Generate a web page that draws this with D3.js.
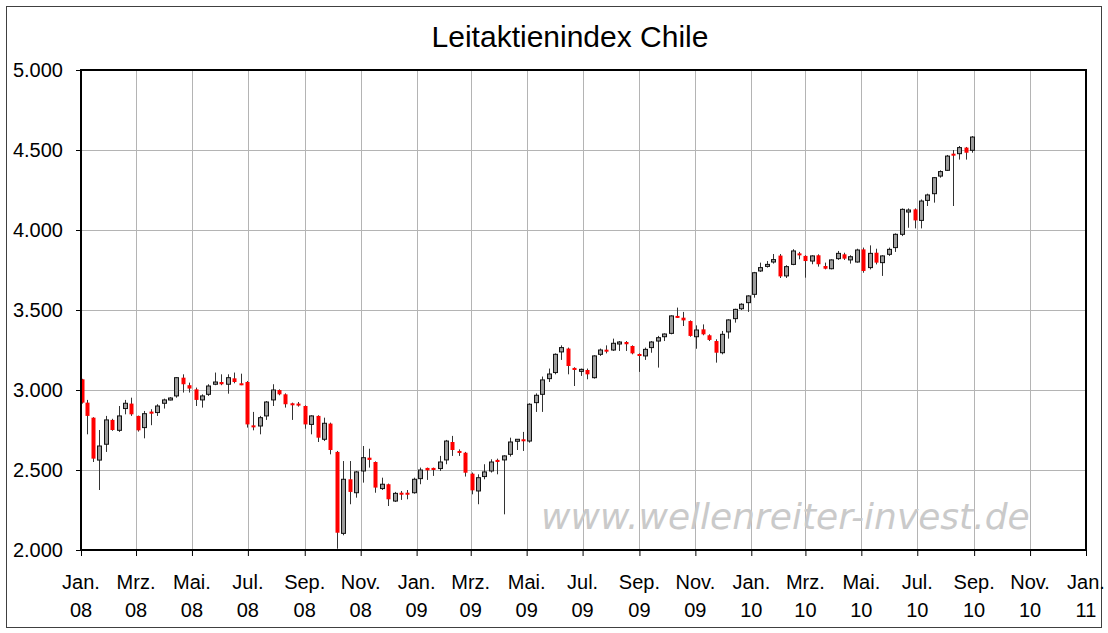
<!DOCTYPE html>
<html>
<head>
<meta charset="utf-8">
<script src="https://cdn.jsdelivr.net/npm/d3@7"></script>
<style>
  body { margin: 0; background: #fff; }
  svg { display: block; }
  text { font-family: "Liberation Sans", Arial, sans-serif; fill: #000; }
</style>
</head>
<body>
<div id="chart"></div>
<script>
// weekly candles, Jan 2008 - Aug 2010 (first one is the short new-year week)
const firstDay = "2008-01-02";
const firstWeek = "2008-01-07";

const opens = [3067,2921,2827,2562,2661,2813,2748,2884,2915,2838,2765,2865,2859,2917,2946,2963,3077,3030,3004,2938,
  2973,3036,3050,3036,3073,3042,3050,2779,2775,2838,2938,3000,2973,2917,2915,2900,2785,2838,2692,2790,
  2613,2104,2442,2358,2494,2577,2550,2384,2411,2306,2358,2358,2358,2446,2513,2513,2509,2563,2675,2619,
  2608,2477,2369,2459,2494,2563,2563,2598,2683,2692,2681,2921,2973,3071,3109,3238,3259,3138,3117,3125,
  3077,3223,3252,3250,3292,3300,3275,3225,3213,3265,3306,3333,3354,3463,3452,3431,3333,3379,3342,3306,
  3233,3363,3446,3508,3546,3598,3744,3775,3800,3840,3713,3785,3854,3838,3806,3842,3775,3758,3821,3848,
  3813,3800,3879,3765,3858,3796,3848,3890,3973,4115,4129,4060,4185,4227,4337,4373,4477,4477,4515,4498];
const highs = [3070,2938,2830,2750,2838,2820,2900,2938,2952,2840,2869,2880,2911,2946,2955,3080,3098,3046,3015,2973,
  3036,3109,3098,3098,3109,3102,3056,2863,2838,2931,3036,3004,2979,2921,2925,2904,2842,2842,2827,2796,
  2619,2556,2556,2494,2650,2633,2554,2452,2415,2363,2369,2375,2452,2515,2515,2515,2588,2688,2713,2629,
  2613,2484,2473,2536,2567,2571,2592,2702,2692,2738,2917,2979,3084,3134,3229,3279,3265,3142,3134,3134,
  3217,3259,3279,3321,3306,3306,3279,3229,3265,3306,3338,3354,3467,3515,3488,3435,3404,3410,3348,3317,
  3369,3442,3508,3542,3592,3738,3796,3806,3850,3850,3780,3880,3863,3842,3842,3848,3796,3817,3869,3858,
  3842,3883,3890,3904,3883,3842,3890,3979,4135,4135,4135,4191,4227,4331,4373,4469,4500,4525,4519,4587];
const lows = [2915,2723,2550,2375,2613,2745,2738,2848,2838,2740,2698,2780,2838,2884,2935,2952,2984,2984,2900,2890,
  2963,3030,3030,2977,3042,3030,2765,2748,2723,2813,2900,2967,2890,2813,2896,2758,2723,2675,2681,2598,
  2008,2092,2286,2327,2421,2515,2358,2375,2275,2300,2313,2317,2352,2411,2438,2463,2494,2536,2588,2588,
  2459,2348,2286,2442,2484,2473,2223,2584,2625,2619,2671,2863,2863,3050,3098,3188,3098,3025,3088,3067,
  3071,3213,3229,3244,3244,3244,3223,3113,3188,3233,3140,3306,3348,3450,3400,3333,3258,3342,3306,3171,
  3223,3321,3421,3500,3488,3577,3738,3765,3790,3700,3700,3780,3817,3702,3786,3771,3754,3754,3813,3813,
  3790,3796,3733,3754,3785,3713,3838,3863,3962,4014,4010,4010,4150,4171,4327,4369,4150,4440,4440,4483];
const closes = [2921,2838,2571,2650,2813,2750,2838,2917,2848,2748,2852,2852,2900,2938,2950,3077,3036,3009,2938,2963,
  3025,3050,3036,3077,3050,3036,2785,2771,2827,2925,3000,2973,2911,2907,2904,2785,2838,2702,2792,2625,
  2108,2442,2363,2488,2577,2563,2390,2411,2317,2354,2348,2348,2442,2500,2498,2500,2550,2681,2625,2608,
  2483,2373,2452,2488,2550,2550,2588,2675,2692,2683,2911,2967,3063,3100,3223,3265,3150,3125,3129,3098,
  3213,3250,3246,3292,3300,3286,3229,3213,3254,3300,3327,3350,3463,3454,3435,3338,3375,3348,3313,3233,
  3348,3438,3504,3536,3588,3733,3765,3785,3815,3710,3771,3869,3842,3806,3838,3786,3758,3813,3854,3821,
  3833,3875,3744,3854,3796,3838,3879,3973,4129,4125,4060,4181,4219,4327,4365,4462,4465,4515,4483,4581];

const yTicks = [2000, 2500, 3000, 3500, 4000, 4500, 5000];
const monthNames = ["Jan.", "Feb.", "Mrz.", "Apr.", "Mai.", "Jun.", "Jul.", "Aug.", "Sep.", "Okt.", "Nov.", "Dez."];

const W = 1108, H = 633;
const plot = { left: 81, right: 1086, top: 70, bottom: 550 };

const parse = d3.timeParse("%Y-%m-%d");
const dates = [parse(firstDay)].concat(
  d3.range(opens.length - 1).map(i => d3.timeWeek.offset(parse(firstWeek), i)));
const candles = dates.map((d, i) => ({ date: d, o: opens[i], h: highs[i], l: lows[i], c: closes[i] }));

const x = d3.scaleTime()
  .domain([parse("2008-01-01"), parse("2011-01-01")])
  .range([plot.left, plot.right]);
const y = d3.scaleLinear().domain([2000, 5000]).range([plot.bottom, plot.top]);
const xTicks = d3.timeMonth.every(2).range(parse("2008-01-01"), parse("2011-01-02"));

const svg = d3.select("#chart").append("svg")
  .attr("width", W)
  .attr("height", H);

// outer frame
svg.append("rect")
  .attr("x", 6.5).attr("y", 6.5)
  .attr("width", W - 13).attr("height", H - 12)
  .attr("fill", "#fff")
  .attr("stroke", "#404040")
  .attr("stroke-width", 1);

svg.append("text")
  .attr("x", 570).attr("y", 47)
  .attr("text-anchor", "middle")
  .style("font-size", "30px")
  .text("Leitaktienindex Chile");

// grid
const grid = svg.append("g").attr("stroke", "#b4b4b4").attr("stroke-width", 1);
grid.selectAll("line.h")
  .data(yTicks.slice(1, -1))
  .join("line")
  .attr("x1", plot.left).attr("x2", plot.right)
  .attr("y1", d => Math.round(y(d)) + 0.5).attr("y2", d => Math.round(y(d)) + 0.5);
grid.selectAll("line.v")
  .data(xTicks.slice(1, -1))
  .join("line")
  .attr("x1", d => Math.round(x(d)) + 0.5).attr("x2", d => Math.round(x(d)) + 0.5)
  .attr("y1", plot.top).attr("y2", plot.bottom);

// watermark
svg.append("text")
  .attr("x", 541).attr("y", 529)
  .style("font-family", "'DejaVu Sans', Verdana, sans-serif")
  .style("font-style", "italic")
  .style("font-size", "36px")
  .style("fill", "#cacaca")
  .text("www.wellenreiter-invest.de");

// axes
const yAxis = d3.axisLeft(y)
  .tickValues(yTicks)
  .tickSize(5)
  .tickPadding(13)
  .tickFormat(d => d3.format(",")(d).replace(",", "."));
svg.append("g")
  .attr("transform", `translate(${plot.left},0)`)
  .call(yAxis)
  .call(g => g.select(".domain").remove())
  .call(g => g.selectAll("text").style("font-size", "20px").attr("font-family", null));

const xAxis = d3.axisBottom(x)
  .tickValues(xTicks)
  .tickSize(6)
  .tickFormat("");
svg.append("g")
  .attr("transform", `translate(0,${plot.bottom})`)
  .call(xAxis)
  .call(g => g.select(".domain").remove());

const xLabels = svg.append("g").selectAll("text")
  .data(xTicks)
  .join("text")
  .attr("text-anchor", "middle")
  .style("font-size", "20px");
xLabels.append("tspan")
  .attr("x", d => x(d)).attr("y", 589)
  .text(d => monthNames[d.getMonth()]);
xLabels.append("tspan")
  .attr("x", d => x(d)).attr("y", 617)
  .text(d => d3.timeFormat("%y")(d));

// candles
const cg = svg.append("g");
cg.selectAll("line.wick")
  .data(candles)
  .join("line")
  .attr("class", "wick")
  .attr("x1", d => Math.round(x(d.date)) + 0.5).attr("x2", d => Math.round(x(d.date)) + 0.5)
  .attr("y1", d => y(d.h)).attr("y2", d => y(d.l))
  .attr("stroke", "#333")
  .attr("stroke-width", 1);

cg.selectAll("rect.body")
  .data(candles)
  .join("rect")
  .attr("class", "body")
  .attr("x", d => Math.round(x(d.date)) - 1.5)
  .attr("width", 4)
  .attr("y", d => y(Math.max(d.o, d.c)))
  .attr("height", d => Math.max(2, Math.abs(y(d.o) - y(d.c))))
  .attr("fill", d => d.c >= d.o ? "#9c9c9c" : "#ff0000")
  .attr("stroke", d => d.c >= d.o ? "#111" : "none")
  .attr("stroke-width", 1);

// plot frame
svg.append("rect")
  .attr("x", plot.left).attr("y", plot.top)
  .attr("width", plot.right - plot.left).attr("height", plot.bottom - plot.top)
  .attr("fill", "none")
  .attr("stroke", "#000")
  .attr("stroke-width", 2);
</script>
</body>
</html>
